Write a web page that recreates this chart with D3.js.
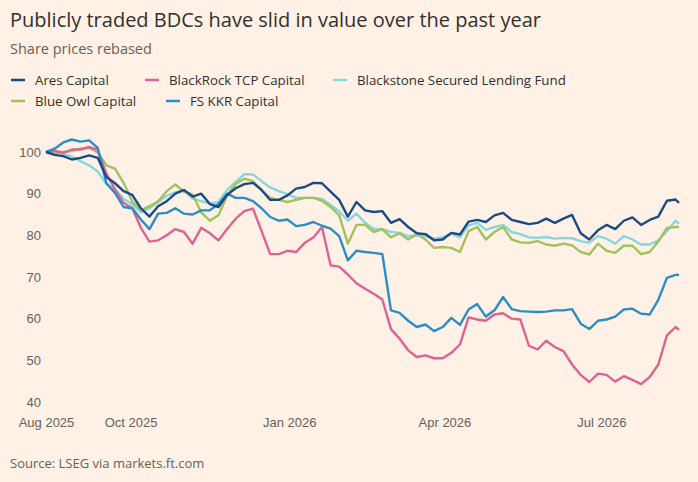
<!DOCTYPE html>
<meta charset="utf-8">
<script src="https://d3js.org/d3.v7.min.js"></script>
<style>
body {
  margin: 0;
  background: #fff1e5;
}
svg {
  font-family: "Open Sans", sans-serif;
}
.tick text {
  fill: #66605c;
  font-size: 13px;
}
.line {
  fill: none;
  stroke-width: 2.4px;
  stroke-linejoin: round;
}
</style>
<body>
<script>
var width = 698, height = 482;

// every 5 days from 13 Aug 2025, last point 15 Aug 2026
var dates = [
  "2025-08-13","2025-08-18","2025-08-23","2025-08-28",
  "2025-09-02","2025-09-07","2025-09-12","2025-09-17","2025-09-22","2025-09-27",
  "2025-10-02","2025-10-07","2025-10-12","2025-10-17","2025-10-22","2025-10-27",
  "2025-11-01","2025-11-06","2025-11-11","2025-11-16","2025-11-21","2025-11-26",
  "2025-12-01","2025-12-06","2025-12-11","2025-12-16","2025-12-21","2025-12-26","2025-12-31",
  "2026-01-05","2026-01-10","2026-01-15","2026-01-20","2026-01-25","2026-01-30",
  "2026-02-04","2026-02-09","2026-02-14","2026-02-19","2026-02-24",
  "2026-03-01","2026-03-06","2026-03-11","2026-03-16","2026-03-21","2026-03-26","2026-03-31",
  "2026-04-05","2026-04-10","2026-04-15","2026-04-20","2026-04-25","2026-04-30",
  "2026-05-05","2026-05-10","2026-05-15","2026-05-20","2026-05-25","2026-05-30",
  "2026-06-04","2026-06-09","2026-06-14","2026-06-19","2026-06-24","2026-06-29",
  "2026-07-04","2026-07-09","2026-07-14","2026-07-19","2026-07-24","2026-07-29",
  "2026-08-03","2026-08-08","2026-08-13","2026-08-15"
];

var ares = [100,99.3,99.0,98.2,98.6,99.2,98.6,94.0,92.5,90.6,89.7,86.5,84.5,87.0,88.2,90.0,90.9,89.3,90.0,87.5,
  86.8,89.7,91.3,92.3,92.6,90.9,88.5,88.5,89.6,91.2,91.6,92.6,92.5,90.5,88.5,84.5,88.0,86.0,85.6,85.8,
  83.0,83.9,82.0,80.5,80.3,78.8,79.0,80.6,80.2,83.3,83.7,83.2,84.8,85.4,83.7,83.2,82.7,83.0,84.0,83.0,
  84.0,84.9,80.5,79.0,81.2,82.5,81.5,83.5,84.3,82.5,83.7,84.5,88.3,88.6,87.8];

var blackrock = [100,100.3,99.8,100.6,100.6,101.2,100.5,94.8,91.0,87.8,86.5,81.8,78.5,78.8,80.0,81.5,80.8,78.0,81.8,80.5,
  78.8,81.5,84.0,85.8,86.4,81.0,75.5,75.5,76.3,76.0,78.2,79.5,82.0,72.8,72.5,70.6,68.5,67.2,66.0,64.6,
  57.5,55.2,52.4,50.8,51.2,50.5,50.5,51.8,53.8,60.3,59.8,59.5,61.0,61.3,60.0,59.8,53.5,52.6,54.7,53.2,
  52.2,49.0,46.5,44.8,46.8,46.5,44.9,46.2,45.3,44.3,46.0,49.0,56.0,58.0,57.3];

var blackstone = [100,99.8,99.6,98.9,97.8,96.8,95.3,92.3,91.0,88.8,87.4,85.5,86.5,88.0,89.5,90.3,90.7,88.8,88.2,87.6,
  88.0,90.9,92.8,94.7,94.6,93.0,91.5,90.6,89.9,89.0,89.0,89.0,88.8,87.3,85.8,83.5,85.2,83.0,81.5,81.5,
  80.8,80.6,79.8,80.0,79.8,79.2,79.5,80.4,79.5,82.4,83.0,81.3,82.0,82.5,80.8,80.3,79.5,79.4,79.6,79.2,
  79.4,79.3,78.6,78.2,79.8,79.2,78.0,79.8,79.0,77.8,77.8,78.8,81.0,83.5,82.8];

var blueowl = [100,100.0,100.0,100.2,100.8,101.0,99.9,96.8,96.0,92.6,88.1,86.0,87.0,88.2,90.6,92.2,90.5,89.8,85.5,83.5,
  84.8,89.5,92.3,93.6,93.0,90.8,89.0,88.5,88.0,88.5,89.0,89.0,88.3,86.8,84.8,78.0,82.5,82.5,80.8,81.5,
  79.5,80.5,79.0,80.3,79.0,77.0,77.2,77.0,76.0,81.0,82.0,79.0,80.8,82.0,79.0,78.3,78.2,78.6,77.8,77.5,
  78.0,77.6,76.0,75.4,78.0,76.3,75.8,77.5,77.5,75.5,76.0,78.5,81.8,82.0,82.0];

var fskkr = [100,100.8,102.3,103.0,102.5,102.8,101.0,92.5,90.2,86.8,86.5,83.8,81.5,85.2,85.4,86.5,85.2,85.0,86.0,86.0,
  87.5,90.0,89.0,89.0,88.2,86.5,84.4,83.5,83.8,82.2,82.5,83.2,82.3,81.6,79.8,74.0,76.3,76.0,75.8,75.5,
  62.0,61.4,59.5,58.0,58.6,57.0,58.0,60.2,58.5,62.2,63.5,60.5,62.0,65.2,62.3,61.8,61.7,61.6,61.7,62.0,
  62.0,62.3,58.8,57.5,59.5,59.8,60.5,62.2,62.4,61.2,61.0,64.5,69.8,70.5,70.5];

var seriesNames = ["Ares Capital", "BlackRock TCP Capital", "Blackstone Secured Lending Fund", "Blue Owl Capital", "FS KKR Capital"];
var seriesValues = [ares, blackrock, blackstone, blueowl, fskkr];
var seriesColors = ["#1b4a85", "#df6390", "#88d6de", "#a3c15c", "#2b8dc7"];
var drawOrder = [2, 3, 1, 4, 0];

var yTicks = [40, 50, 60, 70, 80, 90, 100];
var xTicks = ["2025-08-13", "2025-10-01", "2026-01-01", "2026-04-01", "2026-07-01"];

var parse = d3.timeParse("%Y-%m-%d");
var parsedDates = dates.map(parse);

var svg = d3.select("body").append("svg")
    .attr("width", width)
    .attr("height", height);

svg.append("rect")
    .attr("width", width)
    .attr("height", height)
    .attr("fill", "#fff1e5");

var x = d3.scaleTime()
    .domain([parse("2025-08-13"), parse("2026-08-15")])
    .range([46, 679]);

var y = d3.scaleLinear()
    .domain([40, 100])
    .range([402, 152]);

// titles
svg.append("text")
    .attr("x", 10)
    .attr("y", 27)
    .attr("fill", "#33302e")
    .attr("font-size", "20px")
    .text("Publicly traded BDCs have slid in value over the past year");

svg.append("text")
    .attr("x", 10)
    .attr("y", 54)
    .attr("fill", "#66605c")
    .attr("font-size", "14.5px")
    .text("Share prices rebased");

// legend
var legendPos = [[11, 80], [145, 80], [333, 80], [11, 101], [166, 101]];

var legend = svg.selectAll(".legendItem").data(seriesNames)
    .enter().append("g")
    .attr("class", "legendItem")
    .attr("transform", function(d, i) { return "translate(" + legendPos[i][0] + "," + legendPos[i][1] + ")"; });

legend.append("line")
    .attr("x1", 0)
    .attr("x2", 14)
    .attr("stroke", function(d, i) { return seriesColors[i]; })
    .attr("stroke-width", 2.5);

legend.append("text")
    .attr("x", 24)
    .attr("dy", "0.35em")
    .attr("fill", "#33302e")
    .attr("font-size", "13.3px")
    .text(function(d) { return d; });

// axes
var yAxis = svg.append("g")
    .attr("transform", "translate(41,0)")
    .call(d3.axisLeft(y).tickValues(yTicks).tickSize(0).tickPadding(0));
yAxis.select(".domain").remove();

var xAxis = svg.append("g")
    .attr("transform", "translate(0,414)")
    .call(d3.axisBottom(x)
      .tickValues(xTicks.map(parse))
      .tickSize(0)
      .tickPadding(4)
      .tickFormat(d3.timeFormat("%b %Y")));
xAxis.select(".domain").remove();
svg.selectAll(".tick text").attr("font-family", null);

// lines
var line = d3.line()
    .x(function(d, i) { return x(parsedDates[i]); })
    .y(function(d) { return y(d); });

svg.selectAll(".line").data(drawOrder)
    .enter().append("path")
    .attr("class", "line")
    .attr("stroke", function(k) { return seriesColors[k]; })
    .attr("d", function(k) { return line(seriesValues[k]); });

svg.append("text")
    .attr("x", 10)
    .attr("y", 468)
    .attr("fill", "#66605c")
    .attr("font-size", "13px")
    .text("Source: LSEG via markets.ft.com");
</script>
</body>
